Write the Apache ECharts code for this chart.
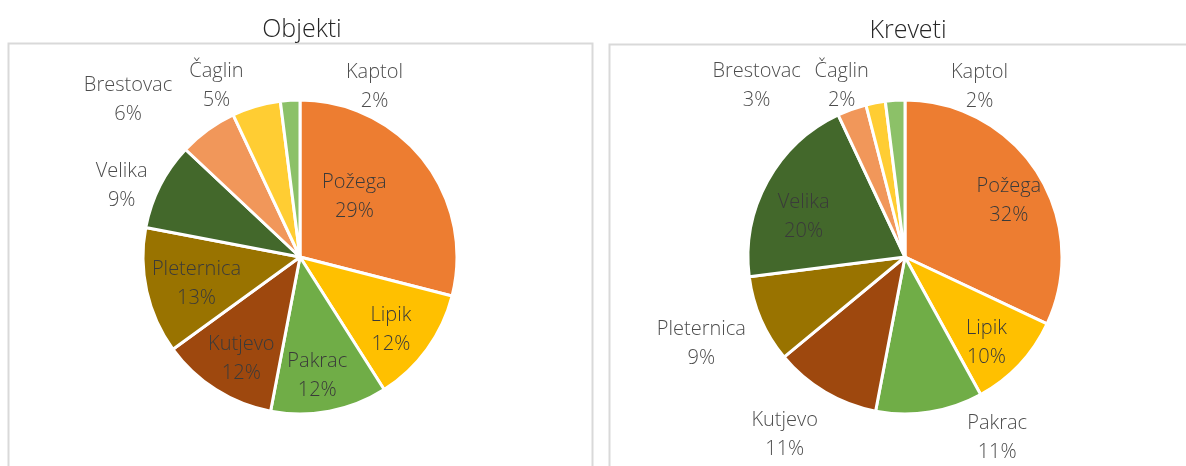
<!DOCTYPE html>
<html>
<head>
<meta charset="utf-8">
<script src="https://cdn.jsdelivr.net/npm/echarts@6/dist/echarts.min.js"></script>
<style>
  html, body { margin: 0; padding: 0; background: #fff; }
  #main { width: 1186px; height: 466px; }
</style>
</head>
<body>
<div id="main"></div>
<script>
// gradovi (redoslijed kriski, od 12 sati u smjeru kazaljke)
var categories = ['Požega', 'Lipik', 'Pakrac', 'Kutjevo', 'Pleternica', 'Velika', 'Brestovac', 'Čaglin', 'Kaptol'];
var objekti = [29, 12, 12, 12, 13, 9, 6, 5, 2];
var kreveti = [32, 10, 11, 11, 9, 20, 3, 2, 2];
var colors = ['#ED7D31', '#FFC000', '#70AD47', '#9E480E', '#997300', '#43682B', '#F1975A', '#FFCD33', '#8CC168'];

// koje oznake stoje izvan kriske
var objektiOutside = [false, false, false, false, false, true, true, true, true];
var krevetiOutside = [false, false, true, true, true, false, true, true, true];

// pomaci oznaka (dx, dy) kao u Excelu
var objektiShift = [[-10, -10], [25, 25], [2, 39], [-15, 33], [-24, 9], [-1, 19], [-55, 4], [-28, 20], [87, 28]];
var krevetiShift = [[35, -13], [22, 30], [61, -16], [-19, 7], [-21, 8], [-30, -1], [-81, 16], [-26, 24], [87, 28]];

var R = 157;
var labelStyle = {
    formatter: '{b}\n{d}%',
    color: '#4d4d4d',
    fontSize: 20,
    fontWeight: 300,
    lineHeight: 29
};

function pieSeries(values, outside, shift, center) {
    var inner = {
        type: 'pie',
        center: center,
        radius: [0, R],
        startAngle: 90,
        clockwise: true,
        silent: true,
        percentPrecision: 0,
        avoidLabelOverlap: false,
        itemStyle: { borderColor: '#fff', borderWidth: 3 },
        label: Object.assign({ position: 'inside' }, labelStyle, { color: '#3a3a3a' }),
        labelLine: { show: false },
        emphasis: { disabled: true },
        labelLayout: function (p) {
            return { dx: shift[p.dataIndex][0], dy: shift[p.dataIndex][1] };
        },
        data: categories.map(function (name, i) {
            return { name: name, value: values[i], itemStyle: { color: colors[i] }, label: { show: !outside[i] } };
        })
    };
    // prozirni prsten samo za vanjske oznake
    var ring = {
        type: 'pie',
        center: center,
        radius: [R, R + 78],
        startAngle: 90,
        clockwise: true,
        silent: true,
        percentPrecision: 0,
        avoidLabelOverlap: false,
        itemStyle: { color: 'rgba(0,0,0,0)' },
        label: Object.assign({ position: 'inside' }, labelStyle),
        labelLine: { show: false },
        emphasis: { disabled: true },
        labelLayout: function (p) {
            return { dx: shift[p.dataIndex][0], dy: shift[p.dataIndex][1] };
        },
        data: categories.map(function (name, i) {
            return { name: name, value: values[i], label: { show: outside[i] } };
        })
    };
    return [inner, ring];
}

var chart = echarts.init(document.getElementById('main'));
var option = {
    backgroundColor: '#fff',
    animation: false,
    textStyle: { fontFamily: 'Open Sans' },
    title: [
        { text: 'Objekti', left: 297, top: 12, textAlign: 'center',
          textStyle: { fontSize: 25, fontWeight: 300, color: '#262626', fontFamily: 'Open Sans' } },
        { text: 'Kreveti', left: 903, top: 13, textAlign: 'center',
          textStyle: { fontSize: 25, fontWeight: 300, color: '#262626', fontFamily: 'Open Sans' } }
    ],
    graphic: [
        { type: 'rect', shape: { x: 8.5, y: 43.5, width: 584, height: 460 },
          style: { fill: 'none', stroke: '#d9d9d9', lineWidth: 2 }, silent: true },
        { type: 'rect', shape: { x: 609.5, y: 44.5, width: 600, height: 460 },
          style: { fill: 'none', stroke: '#d9d9d9', lineWidth: 2 }, silent: true }
    ],
    series: pieSeries(objekti, objektiOutside, objektiShift, [300, 257])
        .concat(pieSeries(kreveti, krevetiOutside, krevetiShift, [905, 257]))
};
chart.setOption(option);
</script>
</body>
</html>
